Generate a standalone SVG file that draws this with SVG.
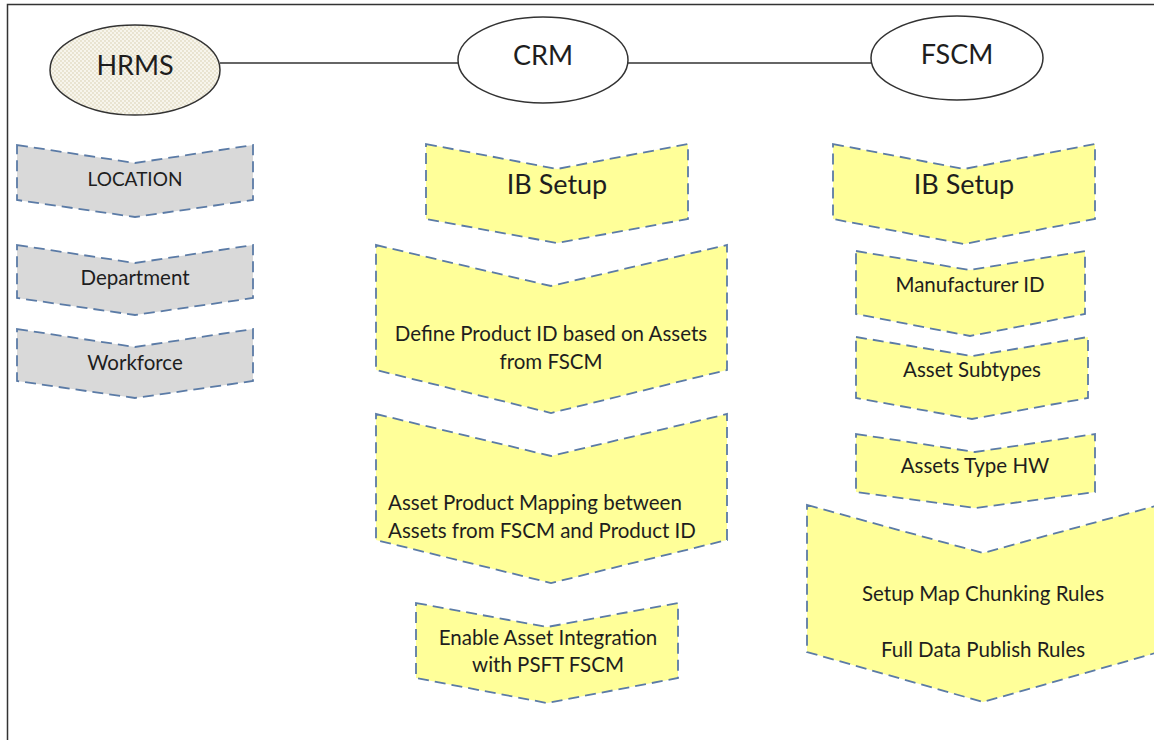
<svg xmlns="http://www.w3.org/2000/svg" width="1154" height="740" viewBox="0 0 1154 740">
<defs>
<pattern id="dots" width="4" height="4" patternUnits="userSpaceOnUse">
<rect width="4" height="4" fill="#f7f5ec"/>
<circle cx="1" cy="1" r="0.9" fill="#e2dcc4"/>
<circle cx="3" cy="3" r="0.9" fill="#e2dcc4"/>
</pattern>
</defs>
<style>
.ell{stroke:#333;stroke-width:1.5;fill:#fff}
.chev{stroke:#5b7ba6;stroke-width:1.8;stroke-dasharray:11 6}
.gray{fill:#d9d9d9}
.yel{fill:#ffff99}
text{font-family:Lato,"Open Sans","Liberation Sans",sans-serif;fill:#1e1e1e;text-anchor:middle}
.t{font-size:20.5px}
.big{font-size:27px}
.conn{stroke:#333;stroke-width:1.5;fill:none}
</style>
<rect width="1154" height="740" fill="#fff"/>
<path d="M7.5 740 V4.5 H1154" fill="none" stroke="#333" stroke-width="1.5"/>
<g id="connectors">
<line class="conn" x1="220" y1="63" x2="458" y2="63"/>
<line class="conn" x1="628" y1="63" x2="871" y2="63"/>
</g>
<g id="hrms">
<ellipse class="ell" cx="135" cy="70" rx="85" ry="45" style="fill:url(#dots)"/>
<text class="big" x="135" y="75">HRMS</text>
</g>
<g id="crm">
<ellipse class="ell" cx="543" cy="60" rx="85" ry="43"/>
<text class="big" x="543" y="65">CRM</text>
</g>
<g id="fscm">
<ellipse class="ell" cx="957" cy="58" rx="86" ry="42"/>
<text class="big" x="957" y="64">FSCM</text>
</g>
<g id="location">
<path class="chev gray" d="M17 145 L135 163 L253 145 L253 200 L135 217 L17 200 Z"/>
<text class="t" x="135" y="186" style="font-size:19px">LOCATION</text>
</g>
<g id="department">
<path class="chev gray" d="M17 245 L135 263 L253 245 L253 298 L135 315 L17 298 Z"/>
<text class="t" x="135" y="285">Department</text>
</g>
<g id="workforce">
<path class="chev gray" d="M17 329 L135 347 L253 329 L253 381 L135 398 L17 381 Z"/>
<text class="t" x="135" y="370">Workforce</text>
</g>
<g id="crm-ib-setup">
<path class="chev yel" d="M426 144 L557 169 L688 144 L688 219 L557 243 L426 219 Z"/>
<text class="big" x="557" y="194">IB Setup</text>
</g>
<g id="define-product">
<path class="chev yel" d="M376 245 L551 286 L727 245 L727 370 L551 413 L376 370 Z"/>
<text class="t" x="551" y="341">Define Product ID based on Assets</text>
<text class="t" x="551" y="369">from FSCM</text>
</g>
<g id="asset-mapping">
<path class="chev yel" d="M376 414 L551 456 L727 414 L727 540 L551 583 L376 540 Z"/>
<text class="t" x="388" y="510" style="text-anchor:start">Asset Product Mapping between</text>
<text class="t" x="388" y="538" style="text-anchor:start">Assets from FSCM and Product ID</text>
</g>
<g id="enable-asset">
<path class="chev yel" d="M416 603 L547 627 L678 603 L678 678 L547 703 L416 678 Z"/>
<text class="t" x="548" y="645">Enable Asset Integration</text>
<text class="t" x="548" y="672">with PSFT FSCM</text>
</g>
<g id="fscm-ib-setup">
<path class="chev yel" d="M833 144 L964 169 L1095 144 L1095 219 L964 244 L833 219 Z"/>
<text class="big" x="964" y="194">IB Setup</text>
</g>
<g id="manufacturer">
<path class="chev yel" d="M856 251 L970 270 L1085 251 L1085 314 L970 336 L856 314 Z"/>
<text class="t" x="970" y="292">Manufacturer ID</text>
</g>
<g id="asset-subtypes">
<path class="chev yel" d="M856 337 L972 356 L1088 337 L1088 398 L972 419 L856 398 Z"/>
<text class="t" x="972" y="377">Asset Subtypes</text>
</g>
<g id="assets-type-hw">
<path class="chev yel" d="M856 434 L975 452 L1095 434 L1095 492 L975 508 L856 492 Z"/>
<text class="t" x="975" y="473">Assets Type HW</text>
</g>
<g id="setup-map">
<path class="chev yel" d="M807 505 L983 553 L1159 505 L1159 652 L983 702 L807 652 Z"/>
<text class="t" x="983" y="601">Setup Map Chunking Rules</text>
<text class="t" x="983" y="657">Full Data Publish Rules</text>
</g>
</svg>
